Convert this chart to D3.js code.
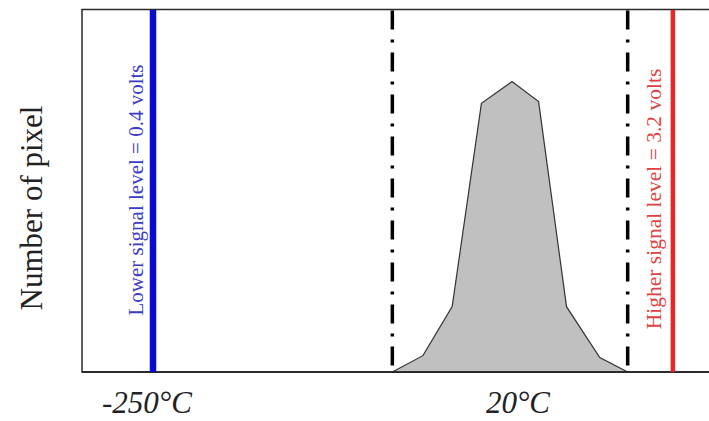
<!DOCTYPE html>
<html>
<head>
<meta charset="utf-8">
<script src="https://cdn.jsdelivr.net/npm/d3@7"></script>
<style>
  html, body { margin: 0; padding: 0; background: #fff; }
  svg { display: block; }
  text { font-family: "Liberation Serif", "Times New Roman", Times, serif; }
</style>
</head>
<body>
<svg id="chart" width="709" height="421"></svg>
<script>
// Temperature histogram of the scene (°C vs pixel count)
const temps  = [-70, -47, -25, -3, 20, 40, 61, 86, 107];
const counts = [0, 4.5, 18, 74, 80, 74.5, 18, 4, 0];

// Detector range markers
const lowerLevel  = { temp: -250, label: "Lower signal level = 0.4 volts" };
const higherLevel = { temp: 141,  label: "Higher signal level = 3.2 volts" };
// Scene range bounds (dash-dot)
const sceneBounds = [-70, 107];

// Axis tick labels
const tickTemps  = [-250, 20];
const tickLabels = ["-250°C", "20°C"];
const yTitle = "Number of pixel";

const svg = d3.select("#chart");
const plot = { left: 82, top: 9.5, bottom: 372, right: 720 };
const tickNudge = [-6, 6];

const x = d3.scaleLinear().domain([-250, 20]).range([153, 512]);
const y = d3.scaleLinear().domain([0, 100]).range([plot.bottom, plot.bottom - 363]);

// Frame
svg.append("rect")
  .attr("x", plot.left).attr("y", plot.top)
  .attr("width", plot.right - plot.left).attr("height", plot.bottom - plot.top)
  .attr("fill", "none").attr("stroke", "#2a2a2a").attr("stroke-width", 1.5);

// Histogram area
const pts = temps.map((t, i) => [t, counts[i]]);
svg.append("path")
  .datum(pts)
  .attr("d", d3.area().x(d => x(d[0])).y0(y(0)).y1(d => y(d[1])))
  .attr("fill", "#c0c0c0")
  .attr("stroke", "#333")
  .attr("stroke-width", 1.2);

// Scene bounds
svg.selectAll("line.bound")
  .data(sceneBounds)
  .join("line")
  .attr("class", "bound")
  .attr("x1", d => x(d)).attr("x2", d => x(d))
  .attr("y1", plot.top + 1).attr("y2", plot.bottom)
  .attr("stroke", "#000")
  .attr("stroke-width", 3.5)
  .attr("stroke-dasharray", "19,10,3,10");

// Baseline redraw on top
svg.append("line")
  .attr("x1", plot.left).attr("x2", plot.right)
  .attr("y1", plot.bottom).attr("y2", plot.bottom)
  .attr("stroke", "#1a1a1a").attr("stroke-width", 1.5);

// Detector level lines
svg.append("line")
  .attr("x1", x(lowerLevel.temp)).attr("x2", x(lowerLevel.temp))
  .attr("y1", plot.top + 0.5).attr("y2", plot.bottom)
  .attr("stroke", "#0a0ad2").attr("stroke-width", 6.5);

svg.append("line")
  .attr("x1", x(higherLevel.temp)).attr("x2", x(higherLevel.temp))
  .attr("y1", plot.top + 0.5).attr("y2", plot.bottom)
  .attr("stroke", "#e8262a").attr("stroke-width", 4.5);

// Level labels (vertical)
svg.append("text")
  .attr("transform", `translate(${x(lowerLevel.temp) - 10},190) rotate(-90)`)
  .attr("text-anchor", "middle")
  .attr("font-size", 21)
  .attr("fill", "#3b3bc8")
  .text(lowerLevel.label);

svg.append("text")
  .attr("transform", `translate(${x(higherLevel.temp) - 12},199) rotate(-90)`)
  .attr("text-anchor", "middle")
  .attr("font-size", 21.5)
  .attr("fill", "#e04040")
  .text(higherLevel.label);

// X tick labels
svg.selectAll("text.tick")
  .data(tickTemps)
  .join("text")
  .attr("class", "tick")
  .attr("x", (d, i) => x(d) + tickNudge[i])
  .attr("y", 413)
  .attr("text-anchor", "middle")
  .attr("font-style", "italic")
  .attr("font-size", 31).attr("fill", "#222")
  .text((d, i) => tickLabels[i]);

// Y title
svg.append("text")
  .attr("transform", "translate(42,208) rotate(-90)")
  .attr("text-anchor", "middle")
  .attr("font-size", 31)
  .attr("fill", "#222")
  .text(yTitle);
</script>
</body>
</html>
